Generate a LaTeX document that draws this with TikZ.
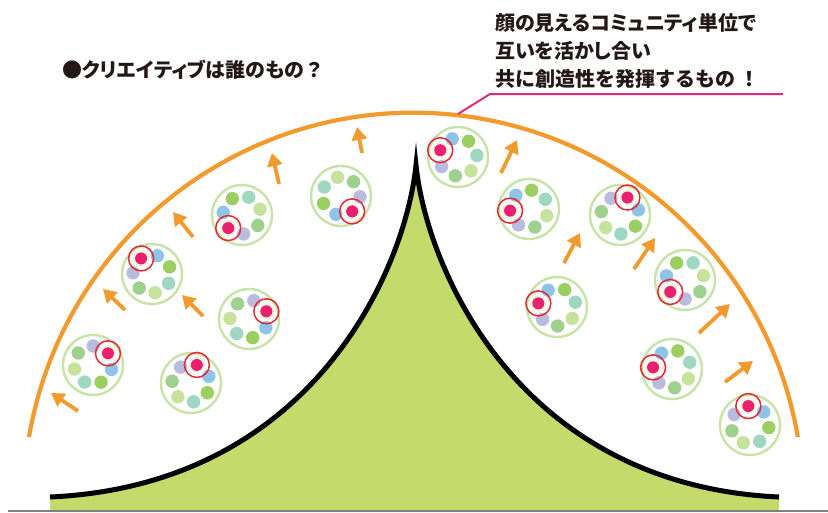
\documentclass[tikz,border=0pt]{standalone}
\usepackage{fontspec}
\newfontfamily\jp{Noto Sans CJK JP}[RawFeature=+palt]
\newfontfamily\jpfull{Noto Sans CJK JP}
\usetikzlibrary{arrows.meta}
\definecolor{cblue}{HTML}{8DC4E8}
\definecolor{cgreen}{HTML}{9BCF62}
\definecolor{cteal}{HTML}{9FD7C0}
\definecolor{clgreen}{HTML}{C6E29C}
\definecolor{cmgreen}{HTML}{9ED08E}
\definecolor{clav}{HTML}{B9BCDF}
\definecolor{cpink}{HTML}{E8206F}
\definecolor{cred}{HTML}{E52A30}
\definecolor{cring}{HTML}{C6E3A8}
\definecolor{chalo}{HTML}{EEF4DC}
\definecolor{corange}{HTML}{F39A2E}
\definecolor{cmtn}{HTML}{C4DA6A}
\definecolor{ccall}{HTML}{E6287A}
\definecolor{ctext}{HTML}{231815}
\tikzset{
  clring/.style={draw=cring, line width=2.4pt, fill=white},
  redring/.style={draw=cred, line width=1.5pt},
  orangeline/.style={draw=corange, line width=4.2pt},
  pusharrow/.style={draw=corange, line width=3.8pt, -{Triangle[length=13pt,width=15pt]}},
  mtnline/.style={draw=black, line width=5pt, line join=miter},
  jptext/.style={inner sep=0pt, text=ctext, font=\jp\bfseries\fontsize{20}{28}\selectfont},
}
\newcommand\fw[1]{{\jpfull\bfseries #1}}
\newcommand\clus[3]{%
  \begin{scope}[shift={(#1,#2)}]
    \draw[clring] (0,0) circle[radius=30pt];
    \foreach \c [count=\i from 1] in {cblue,cgreen,cteal,clgreen,cmgreen,clav}{
      \fill[fill=\c] (#3-\i*51.4286:19pt) circle[radius=6.7pt];}
    \fill[fill=chalo] (#3:19pt) circle[radius=8.2pt];
    \fill[fill=cpink] (#3:19pt) circle[radius=6pt];
    \draw[redring] (#3:19pt) circle[radius=12.5pt];
  \end{scope}}
\begin{document}
\begin{tikzpicture}[x=1pt,y=-1pt]
\useasboundingbox (0,0) rectangle (828,512);
% mountain
\fill[cmtn] (50,497) .. controls (316,485) and (406,265) .. (416,165)
  .. controls (426,265) and (516,485) .. (779,497) -- (779,512) -- (50,512) -- cycle;
\draw[mtnline] (50,497) .. controls (316,485) and (406,265) .. (416,165)
  .. controls (426,265) and (516,485) .. (779,497);
\draw[draw=gray, line width=1.5pt] (8,511) -- (828,511);
% big arc
\draw[orangeline] (29,437) arc[start angle=170.3, end angle=9.7, radius=390pt];
% callout
\draw[draw=ccall, line width=2pt] (458,114) -- (490,94) -- (783,94);
% clusters
\clus{242}{215}{223.5}
\clus{152}{274}{125}
\clus{249}{319}{24}
\clus{93}{365}{38}
\clus{191}{383}{72}
\clus{341}{196}{-54}
\clus{458}{157}{159}
\clus{529}{209}{185}
\clus{620}{215}{67}
\clus{557}{307}{169}
\clus{685}{280}{219}
\clus{672}{369}{175}
\clus{750}{425}{95}
% arrows
\foreach \a/\b/\c/\d in {78/411/51/393, 125/310/103/289, 203/316/182/295, 193/237/173/212,
  279/184/272/153, 362/153/357/127, 501/173/517/140, 564/263/580/233, 634/269/655/238,
  699/333/730/304, 725/382/753/361}{
  \draw[pusharrow] (\a,\b) -- (\c,\d);}
% texts
\node[jptext, anchor=base west] (q) at (62,77) {●クリエイティブは誰のもの\fw{？}};
\node[jptext, anchor=base west] (t1) at (495,30) {顔の見えるコミュニティ単位で};
\node[jptext, anchor=base west] (t2) at (495,58) {互いを活かし合い};
\node[jptext, anchor=base west] (t3) at (495,86) {\jpfull\bfseries 共に創造性を発揮するもの\hspace{4pt}！};
\end{tikzpicture}
\end{document}
